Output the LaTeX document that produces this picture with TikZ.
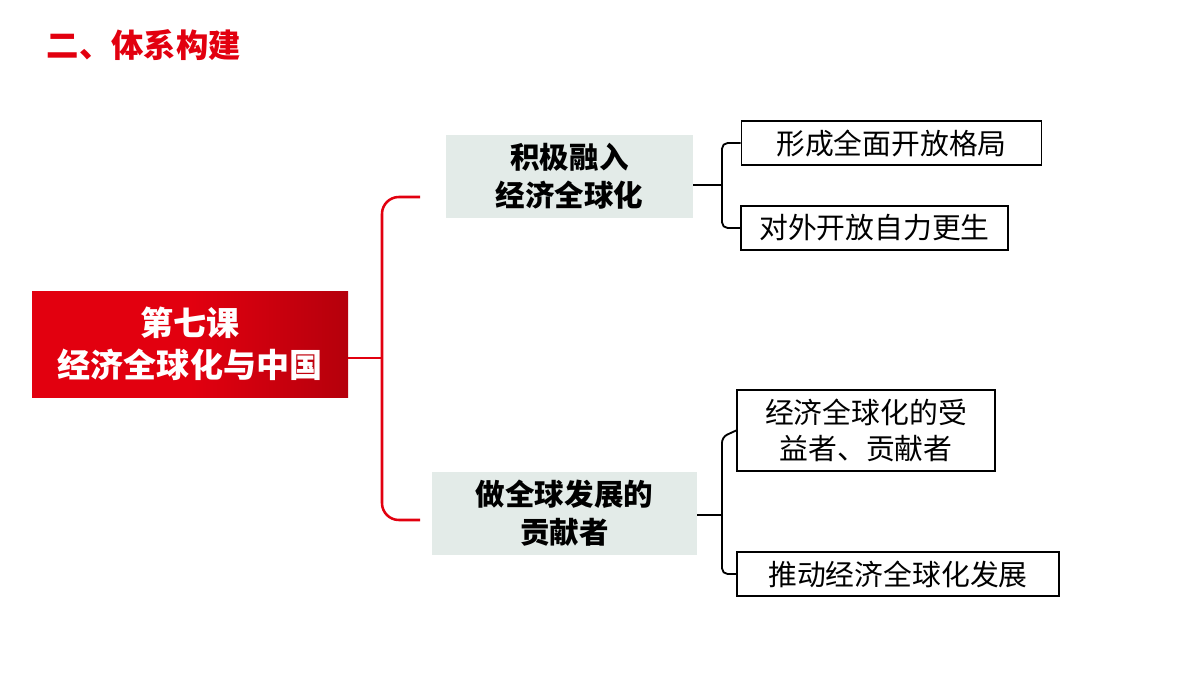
\documentclass[tikz,border=0pt]{standalone}
\usepackage{fontspec}
\newfontfamily\cjk{Noto Sans CJK SC}
\begin{document}
\begin{tikzpicture}[x=0.025cm,y=-0.025cm,
  mid/.style={fill=boxgray,minimum width=#1,minimum height=2.07cm,align=center,font=\cjk\bfseries\fontsize{21}{27}\selectfont},
  leaf/.style={draw=black,line width=1.2pt,minimum height=1.1cm,align=center,font=\cjk\fontsize{20.5}{25}\selectfont,inner sep=2pt},
  redline/.style={draw=myred,line width=1.8pt,rounded corners=12pt},
  blkline/.style={draw=black,line width=1.3pt,rounded corners=4pt}]
\definecolor{myred}{RGB}{226,0,15}
\definecolor{boxgray}{RGB}{227,235,232}
\useasboundingbox (0,0) rectangle (1200,675);
\node[anchor=west,text=myred,font=\cjk\bfseries\fontsize{23}{26}\selectfont] (title) at (42,45) {二、体系构建};
\shade[left color=myred,right color=myred!80!black,middle color=myred] (32,291) rectangle (348,397);
\node[align=center,text=white,font=\cjk\bfseries\fontsize{23.5}{30}\selectfont] (main) at (190,344) {第七课\\经济全球化与中国};
\coordinate (mr) at (348,358);
\node[mid=6.18cm] (A) at (569.5,176.5) {积极融入\\经济全球化};
\node[mid=6.63cm] (B) at (564.5,513.5) {做全球发展的\\贡献者};
\node[leaf,minimum width=7.5cm] (L1) at (891.5,143) {形成全面开放格局};
\node[leaf,minimum width=6.68cm] (L2) at (874.5,228) {对外开放自力更生};
\node[leaf,minimum width=6.45cm,minimum height=2.02cm] (L3) at (866,430.5) {经济全球化的受\\益者、贡献者};
\node[leaf,minimum width=8.05cm] (L4) at (898,574) {推动经济全球化发展};
\draw[draw=myred,line width=1.8pt] (mr) -- (382,358);
\draw[redline] (420,197) -- (382,197) -- (382,520) -- (420,520);
\draw[blkline] (A.east |- 0,185) -- (722,185);
\draw[blkline] (L1.west) -- (722,143) -- (722,228) -- (L2.west);
\draw[blkline] (B.east |- 0,515) -- (722,515);
\draw[blkline] (L3.west) -- (722,437) -- (722,574) -- (L4.west);
\end{tikzpicture}
\end{document}
